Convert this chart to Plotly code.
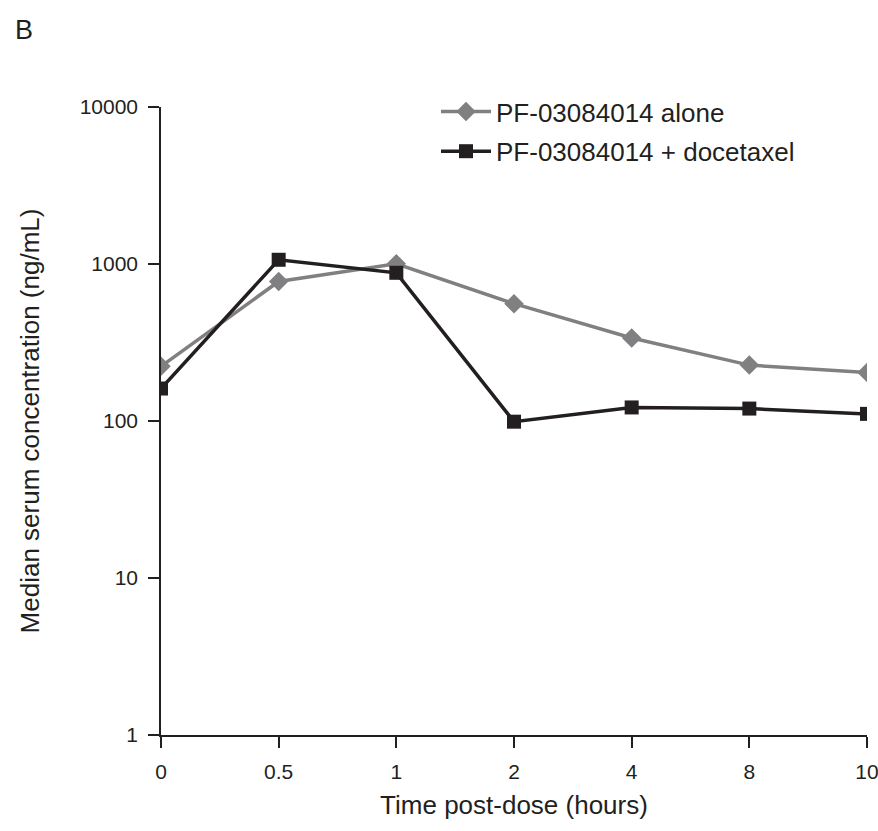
import plotly.graph_objects as go

time_labels = ["0", "0.5", "1", "2", "4", "8", "10"]
alone = [223, 774, 1003, 559, 338, 227, 204]
combo = [161, 1064, 879, 99, 122, 120, 111]
y_ticks = [1, 10, 100, 1000, 10000]

xpos = list(range(len(time_labels)))

gray = "#808082"
black = "#231f20"

fig = go.Figure()
fig.add_trace(go.Scatter(
    x=xpos, y=alone, mode="lines+markers", name="PF-03084014 alone",
    legendgroup="a",
    line=dict(color=gray, width=3.5),
    marker=dict(symbol="diamond", size=15, color=gray),
))
fig.add_trace(go.Scatter(
    x=xpos, y=combo, mode="lines+markers", name="PF-03084014 + docetaxel",
    legendgroup="b",
    line=dict(color=black, width=3.5),
    marker=dict(symbol="square", size=14, color=black),
))

font_family = "Liberation Sans, Arial, sans-serif"
L, R, T, B = 161, 11, 107, 96
W, H = 878, 831
pw, ph = W - L - R, H - T - B

fig.update_layout(
    width=W, height=H,
    paper_bgcolor="white", plot_bgcolor="white",
    margin=dict(l=L, r=R, t=T, b=B, autoexpand=False),
    font=dict(family=font_family, color=black, size=21),
    showlegend=True,
    legend=dict(x=(436 - L) / pw, y=1 + (T - 88) / ph, xanchor="left", yanchor="top",
                font=dict(size=26), bgcolor="rgba(0,0,0,0)",
                itemwidth=50, tracegroupgap=3),
    xaxis=dict(
        tickmode="array", tickvals=xpos, ticktext=time_labels,
        range=[0, len(time_labels) - 1],
        showgrid=False, zeroline=False, automargin=False,
        showline=True, linecolor=black, linewidth=1.5,
        ticks="outside", ticklen=11, tickwidth=1.5, tickcolor=black,
        tickfont=dict(size=21), ticklabelstandoff=6, ticklabeloverflow="allow",
        title=dict(text="Time post-dose (hours)", font=dict(size=26), standoff=14),
    ),
    yaxis=dict(
        type="log", range=[0, 4],
        tickmode="array", tickvals=y_ticks, ticktext=[str(v) for v in y_ticks],
        showgrid=False, zeroline=False, automargin=False,
        showline=True, linecolor=black, linewidth=1.5,
        ticks="outside", ticklen=11, tickwidth=1.5, tickcolor=black,
        tickfont=dict(size=21), ticklabelstandoff=6,
        title=dict(text="Median serum concentration (ng/mL)", font=dict(size=26), standoff=33),
    ),
    annotations=[dict(text="B", x=(13 - L) / pw, y=1 + (T - 30) / ph,
                      xref="paper", yref="paper", xanchor="left", yanchor="middle",
                      showarrow=False, font=dict(size=27))],
)

fig.write_html("out.html")
